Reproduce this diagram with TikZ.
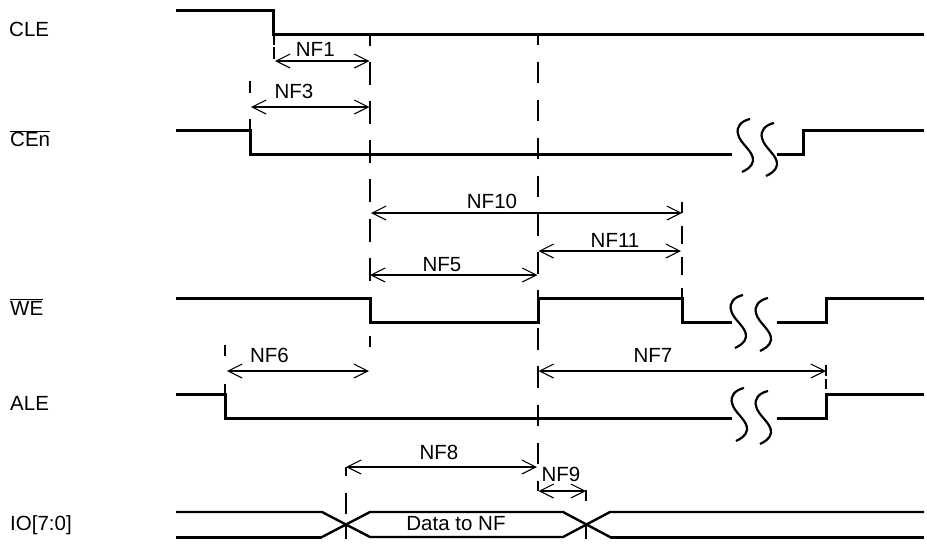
\documentclass[tikz,border=0pt]{standalone}
\usepackage{fontspec}
\setmainfont{Liberation Sans}
\usetikzlibrary{arrows.meta}
\tikzset{
  sig/.style={line width=3pt,line cap=butt,line join=miter},
  iosig/.style={line width=2.4pt,line join=miter},
  guide/.style={line width=2pt},
  dim/.style={line width=1.8pt,{Straight Barb[length=14pt,width=14pt,line width=1.1pt]}-{Straight Barb[length=14pt,width=14pt,line width=1.1pt]}},
  lab/.style={font=\fontsize{20.5}{24}\selectfont,inner sep=0pt},
  sname/.style={font=\fontsize{20.5}{24}\selectfont,inner sep=0pt,anchor=base west},
  brk/.style={line width=2.2pt},
}
\newcommand{\ovl}[1]{$\overline{\mbox{#1}}$}
\newcommand{\brkmark}[2]{%
 \draw[brk] (#1,#2) .. controls (#1-9,#2+2) and (#1-14,#2+8) .. (#1-12,#2+15) .. controls (#1-10,#2+25) and (#1+4,#2+32) .. (#1+3,#2+42) .. controls (#1+2,#2+48) and (#1-4,#2+51) .. (#1-8,#2+53);}
\begin{document}
\begin{tikzpicture}[x=1pt,y=-1pt]
\useasboundingbox (0,0) rectangle (927,544);
\node[sname] (a) at (9,36) {CLE};
\node[sname] (b) at (10,146.7) {\ovl{CEn}};
\node[sname] (c) at (10,315) {\ovl{WE}};
\node[sname] (d) at (10,410.7) {ALE};
\node[sname] (e) at (10,530) {IO[7:0]};
% signals
\draw[sig] (176,10) -- (273.5,10) -- (273.5,34) -- (924,34);
\draw[sig] (176,130) -- (250,130) -- (250,154.5) -- (732,154.5);
\draw[sig] (777,154.5) -- (803,154.5) -- (803,130.5) -- (924,130.5);
\draw[sig] (176,298) -- (370,298) -- (370,322) -- (538.5,322) -- (538.5,298) -- (682,298) -- (682,322) -- (732,322);
\draw[sig] (777,322) -- (826.5,322) -- (826.5,298) -- (924,298);
\draw[sig] (176,394) -- (225,394) -- (225,418) -- (732,418);
\draw[sig] (777,418) -- (826.5,418) -- (826.5,394) -- (924,394);
% IO
\draw[iosig] (176,512) -- (322,512) -- (370,537) -- (563,537) -- (610,512) -- (924,512);
\draw[sig] (176,537) -- (322,537);
\draw[iosig] (322,537) -- (370,512) -- (563,512) -- (610,537);
\draw[sig] (610,537) -- (924,537);
\node[lab] (data) at (456,524) {Data to NF};
% breaks
\brkmark{750}{119}\brkmark{774}{123}
\brkmark{743}{295}\brkmark{768}{298}
\brkmark{744}{388}\brkmark{768}{391}
% guides
\draw[guide,dash pattern=on 23pt off 16.1pt,dash phase=12pt] (370,35) -- (370,347);
\draw[guide,dash pattern=on 21.5pt off 16.6pt,dash phase=11.5pt] (538,35) -- (538,491);
\draw[guide,dash pattern=on 10pt off 2pt on 12pt off 100pt] (274,35) -- (274,59);
\draw[guide,dash pattern=on 12pt off 26pt on 12pt off 100pt] (250,81) -- (250,130);
\draw[guide,dash pattern=on 18pt off 13pt,dash phase=7pt] (682,202) -- (682,298);
\draw[guide,dash pattern=on 11pt off 28pt on 11pt off 100pt] (225,345) -- (225,394);
\draw[guide,dash pattern=on 11pt off 3pt on 10pt off 100pt] (826,365) -- (826,389);
\draw[guide,dash pattern=on 9pt off 17pt on 21pt off 12pt on 13pt off 100pt] (346,467) -- (346,539);
\draw[guide,dash pattern=on 11pt off 24pt on 14pt off 100pt] (586,490) -- (586,539);
% dims
\coordinate (p1) at (275,61); \coordinate (q1) at (369.5,61);
\draw[dim] (p1) -- (q1);
\node[lab] (nf1) at (315.3,49) {NF1};
\coordinate (p3) at (251,107); \coordinate (q3) at (369.5,107);
\draw[dim] (p3) -- (q3);
\node[lab] (nf3) at (294,91) {NF3};
\coordinate (p10) at (371,213); \coordinate (q10) at (682,213);
\draw[dim] (p10) -- (q10);
\node[lab] (nf10) at (492,201) {NF10};
\coordinate (p11) at (538.5,251); \coordinate (q11) at (681,251);
\draw[dim] (p11) -- (q11);
\node[lab] (nf11) at (615,240.5) {NF11};
\coordinate (p5) at (370,275); \coordinate (q5) at (537.5,275);
\draw[dim] (p5) -- (q5);
\node[lab] (nf5) at (442,265) {NF5};
\coordinate (p6) at (227,371); \coordinate (q6) at (369,371);
\draw[dim] (p6) -- (q6);
\node[lab] (nf6) at (269.5,355) {NF6};
\coordinate (p7) at (538.5,371); \coordinate (q7) at (826,371);
\draw[dim] (p7) -- (q7);
\node[lab] (nf7) at (653,355) {NF7};
\coordinate (p8) at (346,467); \coordinate (q8) at (537,467);
\draw[dim] (p8) -- (q8);
\node[lab] (nf8) at (439,452.5) {NF8};
\coordinate (p9) at (538.5,491); \coordinate (q9) at (586,491);
\draw[dim] (p9) -- (q9);
\node[lab] (nf9) at (561,474) {NF9};
\end{tikzpicture}
\end{document}
